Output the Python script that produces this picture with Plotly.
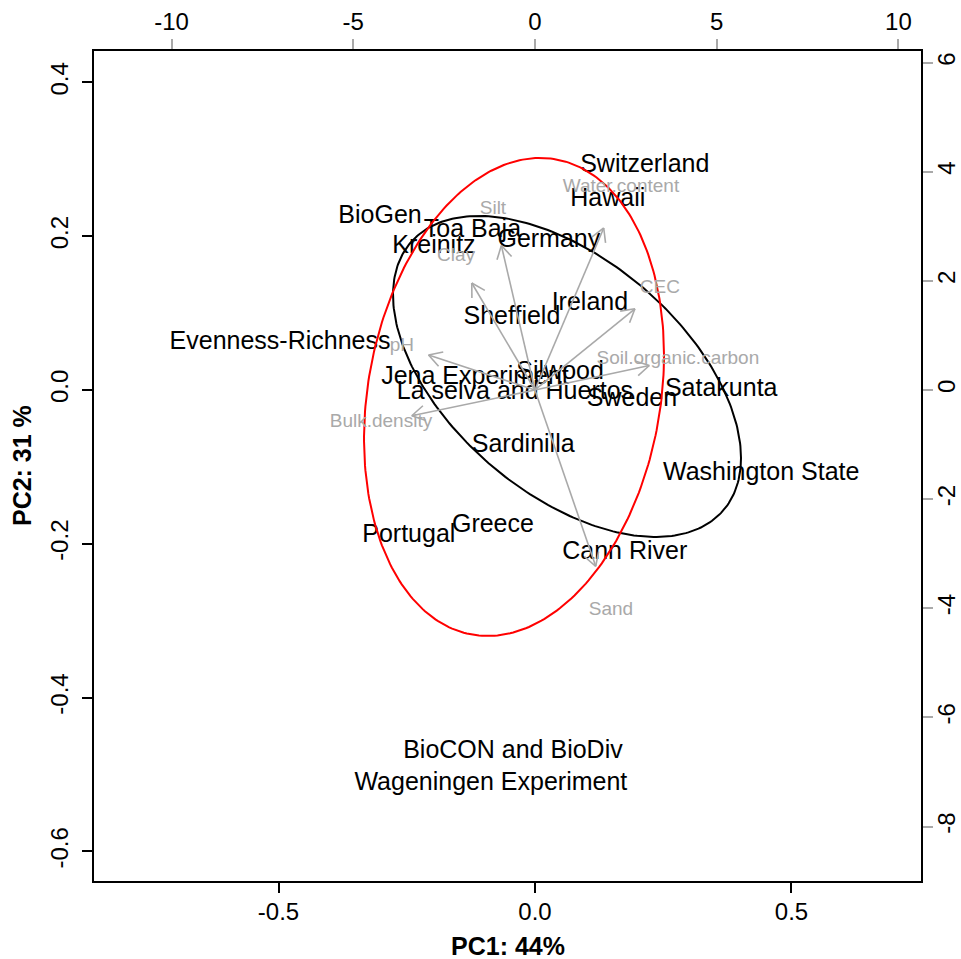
import numpy as np
import plotly.graph_objects as go

# ---------------- data ----------------
sites = ["Switzerland", "Hawaii", "BioGen", "Toa Baja", "Germany", "Kreinitz",
         "Ireland", "Sheffield", "Evenness-Richness", "Silwood", "Jena Experiment",
         "La selva and Huertos", "Satakunta", "Sweden", "Sardinilla",
         "Washington State", "Portugal", "Greece", "Cann River",
         "BioCON and BioDiv", "Wageningen Experiment"]
pc1 = [0.214, 0.142, -0.302, -0.122, 0.027, -0.197, 0.107, -0.045, -0.497, 0.049,
       -0.117, -0.039, 0.363, 0.189, -0.023, 0.441, -0.246, -0.082, 0.175,
       -0.043, -0.086]
pc2 = [0.291, 0.247, 0.225, 0.207, 0.194, 0.186, 0.112, 0.094, 0.061, 0.023,
       0.016, -0.004, 0.000, -0.013, -0.072, -0.109, -0.189, -0.177, -0.212,
       -0.470, -0.512]

variables = ["Water.content", "Silt", "Clay", "CEC", "pH",
             "Soil.organic.carbon", "Bulk.density", "Sand"]
load1 = [2.366, -1.155, -2.173, 3.439, -3.659, 3.934, -4.237, 2.091]
load2 = [3.71, 3.31, 2.45, 1.86, 0.80, 0.56, -0.59, -4.04]

# ellipses: centre and spread matrix (PC1/PC2 units)
ell_black_center = [0.0624, 0.0176]
ell_black_cov = [[0.11504, -0.03594], [-0.03594, 0.04356]]
ell_red_center = [-0.0409, -0.0091]
ell_red_cov = [[0.0855, 0.0159], [0.0159, 0.0966]]

x_ticks = [-0.5, 0.0, 0.5]
x_ticktext = ["-0.5", "0.0", "0.5"]
y_ticks = [-0.6, -0.4, -0.2, 0.0, 0.2, 0.4]
y_ticktext = ["-0.6", "-0.4", "-0.2", "0.0", "0.2", "0.4"]
x2_ticks = [-10, -5, 0, 5, 10]
x2_ticktext = ["-10", "-5", "0", "5", "10"]
y2_ticks = [-8, -6, -4, -2, 0, 2, 4, 6]
y2_ticktext = ["-8", "-6", "-4", "-2", "0", "2", "4", "6"]

xlabel = "PC1: 44%"
ylabel = "PC2: 31 %"

# ---------------- layout constants ----------------
W, H = 961, 959
ML, MR, MT, MB = 93, 39, 50, 77
x_range = [-0.8616, 0.7544]
y_range = [-0.6398, 0.4421]
x2_range = [-12.16, 10.65]
y2_range = [-9.016, 6.23]
FONT = "Liberation Sans, Arial, sans-serif"
GRAY = "#A9A9A9"

fig = go.Figure()

# site labels
fig.add_trace(go.Scatter(
    x=pc1, y=pc2, text=sites, mode="text", textposition="middle center",
    textfont=dict(family=FONT, size=25, color="black"),
    hoverinfo="text", showlegend=False, xaxis="x", yaxis="y"))


def ellipse(center, cov, n=300):
    L = np.linalg.cholesky(np.array(cov))
    t = np.linspace(0, 2 * np.pi, n)
    circ = np.vstack([np.cos(t), np.sin(t)])
    pts = L @ circ
    return center[0] + pts[0], center[1] + pts[1]


for c, cv, col in [(ell_black_center, ell_black_cov, "black"),
                   (ell_red_center, ell_red_cov, "red")]:
    ex, ey = ellipse(c, cv)
    fig.add_trace(go.Scatter(x=ex, y=ey, mode="lines",
                             line=dict(color=col, width=2),
                             hoverinfo="skip", showlegend=False,
                             xaxis="x", yaxis="y"))

# arrows (secondary axes) - shafts at 0.8 of label position, open heads
pw = W - ML - MR
ph = H - MT - MB
sx = pw / (x2_range[1] - x2_range[0])
sy = ph / (y2_range[1] - y2_range[0])
head_len = 15.0
head_ang = np.deg2rad(30)
ax_, ay_ = [], []
for lx, ly in zip(load1, load2):
    tx, ty = 0.8 * lx, 0.8 * ly
    ax_ += [0, tx, None]
    ay_ += [0, ty, None]
    dx, dy = tx * sx, ty * sy
    ang = np.arctan2(dy, dx)
    for s in (+1, -1):
        a = ang + np.pi + s * head_ang
        hx = tx + head_len * np.cos(a) / sx
        hy = ty + head_len * np.sin(a) / sy
        ax_ += [tx, hx, None]
        ay_ += [ty, hy, None]

fig.add_trace(go.Scatter(x=ax_, y=ay_, mode="lines",
                         line=dict(color=GRAY, width=1.6),
                         hoverinfo="skip", showlegend=False,
                         xaxis="x2", yaxis="y2"))
fig.add_trace(go.Scatter(
    x=load1, y=load2, text=variables, mode="text", textposition="middle center",
    textfont=dict(family=FONT, size=19, color=GRAY),
    hoverinfo="text", showlegend=False, xaxis="x2", yaxis="y2"))

tickfont = dict(family=FONT, size=24, color="black")
common = dict(showgrid=False, zeroline=False, showline=False, automargin=False,
              ticks="outside", ticklen=10, tickwidth=1.5, tickfont=tickfont)
fig.update_layout(
    width=W, height=H,
    margin=dict(l=ML, r=MR, t=MT, b=MB, pad=0, autoexpand=False),
    paper_bgcolor="white", plot_bgcolor="white",
    showlegend=False,
    xaxis=dict(range=x_range, tickvals=x_ticks, ticktext=x_ticktext,
               tickcolor="black", ticklabelstandoff=-2, **common),
    yaxis=dict(range=y_range, tickvals=y_ticks, ticktext=y_ticktext,
               tickcolor="black", tickangle=-90, ticklabelstandoff=4, **common),
    xaxis2=dict(range=x2_range, tickvals=x2_ticks, ticktext=x2_ticktext,
                overlaying="x", side="top", anchor="y",
                tickcolor=GRAY, ticklabelstandoff=-1, **common),
    yaxis2=dict(range=y2_range, tickvals=y2_ticks, ticktext=y2_ticktext,
                overlaying="y", side="right", anchor="x",
                tickcolor=GRAY, tickangle=-90, ticklabelstandoff=-7, **common),
    shapes=[dict(type="rect", xref="paper", yref="paper", x0=0, x1=1, y0=0, y1=1,
                 line=dict(color="black", width=2), layer="above")],
    annotations=[
        dict(text="<b>" + xlabel + "</b>", xref="paper", yref="paper",
             x=0.5, y=-0.0769, showarrow=False,
             font=dict(family=FONT, size=25, color="black"),
             xanchor="center", yanchor="middle"),
        dict(text="<b>" + ylabel + "</b>", xref="paper", yref="paper",
             x=-0.0856, y=0.5, showarrow=False, textangle=-90,
             font=dict(family=FONT, size=25, color="black"),
             xanchor="center", yanchor="middle"),
    ],
)

fig.write_html("out.html")
